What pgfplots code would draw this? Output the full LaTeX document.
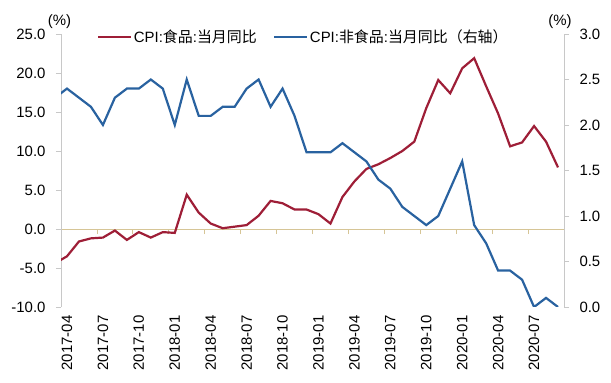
\documentclass[border=0pt]{standalone}
\usepackage{fontspec}
\setmainfont{Liberation Sans}
\newfontfamily\cjk{Noto Sans CJK SC}
\usepackage{pgfplots}
\pgfplotsset{compat=1.18}
\definecolor{cpired}{RGB}{158,30,55}
\definecolor{cpiblue}{RGB}{41,98,160}
\definecolor{axgray}{RGB}{200,200,200}
\definecolor{axtan}{RGB}{214,197,150}
\begin{document}
\begin{tikzpicture}
\useasboundingbox (-61bp,-76bp) rectangle (550bp,307bp);
\pgfplotsset{
  base/.style={
    scale only axis, width=503bp, height=273bp, at={(0,0)}, anchor=south west,
    xmin=-0.5, xmax=41.5,
    /pgf/number format/assume math mode=true,
    tick label style={font=\fontsize{15}{18}\selectfont},
    yticklabel style={/pgf/number format/fixed, /pgf/number format/fixed zerofill, /pgf/number format/precision=1},
    tick align=outside, major tick length=5bp,
    hide obscured x ticks=false, hide obscured y ticks=false,
    y axis line style={axgray, line width=0.8bp},
    ytick style={axgray, line width=0.8bp},
  }
}
\begin{axis}[base,
  ymin=-10, ymax=25, ytick={-10,-5,0,5,10,15,20,25},
  axis y line*=left, axis x line*=middle,
  x axis line style={axtan, line width=0.9bp},
  xtick style={axtan, line width=0.8bp},
  xtick={-0.5,2.5,5.5,8.5,11.5,14.5,17.5,20.5,23.5,26.5,29.5,32.5,35.5,38.5},
  xticklabels={},
  yticklabel style={xshift=-7bp},
  extra description/.code={\node[font=\fontsize{15}{18}\selectfont] at (rel axis cs:-0.003,1.047) {(\%)};
    \node[font=\fontsize{15}{18}\selectfont] at (rel axis cs:0.992,1.047) {(\%)};},
]
\addplot[cpired, line width=2.2bp] coordinates {
(-1,-4.4)(0,-3.5)(1,-1.6)(2,-1.2)(3,-1.1)(4,-0.2)(5,-1.4)(6,-0.4)(7,-1.1)(8,-0.4)
(9,-0.5)(10,4.4)(11,2.1)(12,0.7)(13,0.1)(14,0.3)(15,0.5)(16,1.7)(17,3.6)(18,3.3)
(19,2.5)(20,2.5)(21,1.9)(22,0.7)(23,4.1)(24,6.1)(25,7.7)(26,8.3)(27,9.1)(28,10.0)
(29,11.2)(30,15.5)(31,19.1)(32,17.4)(33,20.6)(34,21.9)(35,18.3)(36,14.8)(37,10.6)
(38,11.1)(39,13.2)(40,11.2)(41,7.9)};
\end{axis}
\begin{axis}[base,
  ymin=0, ymax=3, ytick={0,0.5,1,1.5,2,2.5,3},
  axis y line*=right, axis x line*=bottom,
  x axis line style={draw=none}, xtick style={draw=none},
  xtick={0,3,6,9,12,15,18,21,24,27,30,33,36,39},
  xticklabels={2017-04,2017-07,2017-10,2018-01,2018-04,2018-07,2018-10,2019-01,2019-04,2019-07,2019-10,2020-01,2020-04,2020-07},
  xticklabel style={rotate=90, anchor=east},
  yticklabel style={xshift=7bp},
  legend columns=2,
  legend cell align=left,
  legend image code/.code={\draw[#1] (0bp,0bp) -- (33bp,0bp);},
  legend style={at={(0.0716,0.989)}, anchor=west, draw=none, fill=none, inner sep=0pt,
    font=\fontsize{15}{18}\selectfont, nodes={inner sep=1.5bp},
    /tikz/every even column/.append style={column sep=15bp}},
]
\addlegendimage{cpired, line width=2.2bp}
\addlegendentry{CPI:{\cjk 食品}:{\cjk 当月同比}}
\addplot[cpiblue, line width=2.2bp] coordinates {
(-1,2.3)(0,2.4)(1,2.3)(2,2.2)(3,2.0)(4,2.3)(5,2.4)(6,2.4)(7,2.5)(8,2.4)
(9,2.0)(10,2.5)(11,2.1)(12,2.1)(13,2.2)(14,2.2)(15,2.4)(16,2.5)(17,2.2)(18,2.4)
(19,2.1)(20,1.7)(21,1.7)(22,1.7)(23,1.8)(24,1.7)(25,1.6)(26,1.4)(27,1.3)(28,1.1)
(29,1.0)(30,0.9)(31,1.0)(32,1.3)(33,1.6)(34,0.9)(35,0.7)(36,0.4)(37,0.4)(38,0.3)
(39,0.0)(40,0.1)(41,0.0)};
\addlegendentry{CPI:{\cjk 非食品}:{\cjk 当月同比（右轴）}}
\end{axis}
\end{tikzpicture}
\end{document}
